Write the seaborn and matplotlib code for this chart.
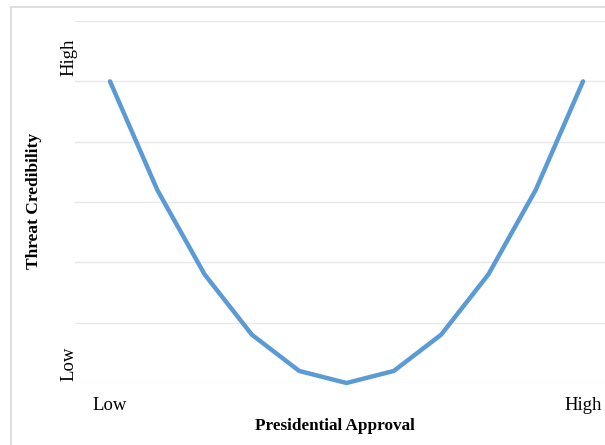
import matplotlib
matplotlib.use("Agg")
import matplotlib.pyplot as plt
from matplotlib.lines import Line2D
import seaborn as sns
import pandas as pd

# data (credibility vs approval, U shape)
approval_steps = list(range(11))
credibility = [5.0, 3.2, 1.8, 0.8, 0.2, 0.0, 0.2, 0.8, 1.8, 3.2, 5.0]
x_tick_pos = [0, 10]
x_tick_labels = ['Low', 'High']
grid_levels = [0, 1, 2, 3, 4, 5, 6]

df = pd.DataFrame({'approval': approval_steps, 'credibility': credibility})

sns.set_style("white")
plt.rcParams['font.family'] = ['Liberation Serif', 'DejaVu Serif']

W, H = 605, 445
fig = plt.figure(figsize=(W / 100, H / 100), dpi=100)

# chart area border, only left and top edges are inside the crop
fig.add_artist(Line2D([10.5 / W, 10.5 / W], [0, 1 - 7 / H], transform=fig.transFigure,
                      color='#d9d9d9', linewidth=1.2))
fig.add_artist(Line2D([10.5 / W, 1], [1 - 7 / H, 1 - 7 / H], transform=fig.transFigure,
                      color='#d9d9d9', linewidth=1.2))

ax = fig.add_axes([75 / W, 1 - 383 / H, 1 - 75 / W, (383 - 21) / H])

sns.lineplot(data=df, x='approval', y='credibility', ax=ax,
             color='#5b9bd5', linewidth=3.2, clip_on=False)

ax.set_xlim((75 - 110) / 47.3, (605 - 110) / 47.3)
ax.set_ylim(0, 6)
ax.set_yticks(grid_levels)
ax.set_yticklabels([])
ax.yaxis.grid(True, color='#e8e8e8', linewidth=1)
ax.xaxis.grid(False)
ax.set_xticks(x_tick_pos)
ax.set_xticklabels(x_tick_labels, fontsize=13.5, color='black')
ax.tick_params(axis='both', length=0)
ax.tick_params(axis='x', pad=10)
ax.set_xlabel('')
ax.set_ylabel('')
for s in ax.spines.values():
    s.set_visible(False)

fig.text(69 / W, 1 - 57 / H, 'High', rotation=90, ha='center', va='center',
         fontsize=13.5, color='black')
fig.text(69 / W, 1 - 364 / H, 'Low', rotation=90, ha='center', va='center',
         fontsize=13.5, color='black')
fig.text(34 / W, 1 - 201 / H, 'Threat Credibility', rotation=90, ha='center',
         va='center', fontsize=12.5, fontweight='bold', color='black')
fig.text(335 / W, 1 - 426 / H, 'Presidential Approval', ha='center',
         va='center', fontsize=12.3, fontweight='bold', color='black')

fig.savefig('out.png', dpi=100)
